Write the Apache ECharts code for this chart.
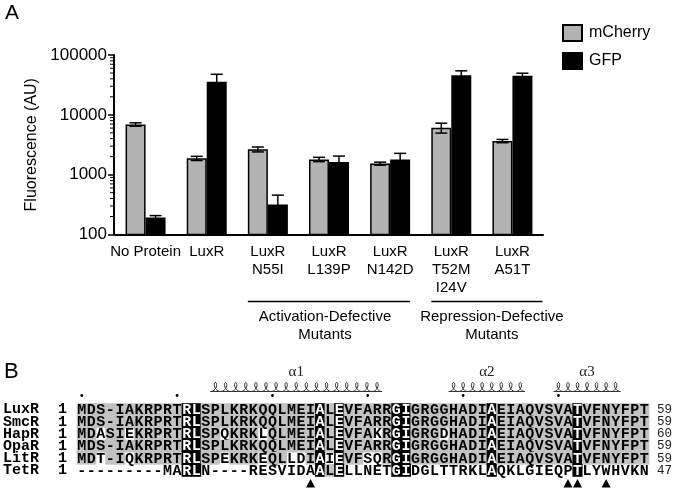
<!DOCTYPE html>
<html><head><meta charset="utf-8">
<script src="https://cdn.jsdelivr.net/npm/echarts@6/dist/echarts.min.js"></script>
<style>html,body{margin:0;padding:0;background:#fff}#c{width:675px;height:496px}</style>
</head><body><div id="c"></div>
<script>
// ---------- Panel A data ----------
const categories = ['No Protein','LuxR','LuxR\nN55I','LuxR\nL139P','LuxR\nN142D','LuxR\nT52M\nI24V','LuxR\nA51T'];
const mCherry    = [6900, 1875, 2650, 1800, 1530, 6100, 3650];
const mCherryErr = [450, 150, 250, 150, 90, 1150, 230];
const gfp        = [193, 35600, 318, 1625, 1800, 46000, 44800];
const gfpErr     = [14, 12000, 137, 420, 470, 8400, 4800];
const minorTicks = [200,300,400,500,600,700,800,900,2000,3000,4000,5000,6000,7000,8000,9000,20000,30000,40000,50000,60000,70000,80000,90000];
const groupNames = ['Activation-Defective\nMutants', 'Repression-Defective\nMutants'];
const groupFrom  = [2, 5];
const groupTo    = [4, 6];

// ---------- Panel B data ----------
const seqNames = ['LuxR','SmcR','HapR','OpaR','LitR','TetR'];
const seqStart = [1, 1, 1, 1, 1, 1];
const seqEnd   = [59, 59, 60, 59, 59, 47];
const sequences = [
  'MDS-IAKRPRTRLSPLKRKQQLMEIALEVFARRGIGRGGHADIAEIAQVSVATVFNYFPT',
  'MDS-IAKRPRTRLSPLKRKQQLMEIALEVFARRGIGRGGHADIAEIAQVSVATVFNYFPT',
  'MDASIEKRPRTRLSPQKRKLQLMEIALEVFAKRGIGRGDHADIAEIAQVSVATVFNYFPT',
  'MDS-IAKRPRTRLSPLKRKQQLMEIALEVFARRGIGRGGHADIAEIAQVSVATVFNYFPT',
  'MDT-IQKRPRTRLSPEKRKEQLLDIAIEVFSQRGIGRGGHADIAEIAQVSVATVFNYFPT',
  '---------MARLN----RESVIDAALELLNETGIDGLTTRKLAQKLGIEQPTLYWHVKN'
];
// conservation class per residue: b = strictly conserved, g = similar, w = none
const conservation = [
  'ggggggggggg|bb|gggggggggggg|b|g|b|ggggg|bb|gggggggg|b|gggggggg|b|ggggggg',
  'ggggggggggg|bb|gggggggggggg|b|g|b|ggggg|bb|gggggggg|b|gggggggg|b|ggggggg',
  'ggwggwggggg|bb|ggwgggwggggg|b|g|b|gggwg|bb|gggwgggg|b|gggggggg|b|ggggggg',
  'ggggggggggg|bb|gggggggggggg|b|g|b|ggggg|bb|gggggggg|b|gggggggg|b|ggggggg',
  'ggwggwggggg|bb|ggwgggwggwwg|b|w|b|ggwwg|bb|gggggggg|b|gggggggg|b|ggggggg',
  'wwwwwwwwwww|bb|wwwwwwwwwwww|b|g|b|wwwww|bb|wwwwwwww|b|wwwwwwww|b|wwwwwww'
];
const helixNames = ['α1', 'α2', 'α3'];
const helixStart = [15, 40, 51];
const helixEnd   = [32, 47, 57];
const dotCols    = [1, 11, 21, 31, 41, 51];
const arrowCols  = [25, 52, 53, 56];

// ---------- build ----------
const sans = 'Liberation Sans, Arial, Helvetica, sans-serif';
const mono = 'Liberation Mono, Courier New, monospace';
const serif = 'Liberation Serif, Times New Roman, serif';

const cells = [];
sequences.forEach((seq, r) => {
  const cls = conservation[r].replace(/\|/g, '');
  for (let c = 0; c < seq.length; c++) cells.push({ c: c, r: r, ch: seq[c], k: cls[c] });
});
const nCols = sequences[0].length;
const colCats = Array.from({ length: nCols }, (_, i) => String(i + 1));

const chart = echarts.init(document.getElementById('c'));

function errRender(values, errs, dx) {
  return function (params, api) {
    const i = params.dataIndex;
    const v = values[i], e = errs[i];
    const hi = api.coord([i, v + e]);
    const lo = api.coord([i, v - e]);
    const x = hi[0] + dx;
    const cw = 6;
    const st = { stroke: '#000', lineWidth: 1.5 };
    return {
      type: 'group', children: [
        { type: 'line', shape: { x1: x, y1: hi[1], x2: x, y2: lo[1] }, style: st },
        { type: 'line', shape: { x1: x - cw, y1: hi[1], x2: x + cw, y2: hi[1] }, style: st },
        { type: 'line', shape: { x1: x - cw, y1: lo[1], x2: x + cw, y2: lo[1] }, style: st }
      ]
    };
  };
}

const option = {
  animation: false,
  backgroundColor: '#fff',
  legend: {
    data: ['mCherry', 'GFP'], orient: 'vertical', left: 562, top: 24, padding: 0,
    itemWidth: 19, itemHeight: 16, itemGap: 10, icon: 'rect', selectedMode: false,
    textStyle: { fontSize: 16, color: '#000', fontFamily: sans, padding: [0, 0, 0, 2] }
  },
  grid: [
    { left: 115, top: 55, width: 428, height: 179.5 },
    { left: 77, top: 403.5, width: 572.4, height: 73 }
  ],
  xAxis: [
    {
      type: 'category', gridIndex: 0, data: categories,
      axisLine: { onZero: false, lineStyle: { color: '#000', width: 2 } },
      axisTick: { alignWithLabel: true, length: 6, lineStyle: { color: '#000', width: 1.5 } },
      axisLabel: { interval: 0, color: '#000', fontSize: 15, fontFamily: sans, lineHeight: 18, margin: 8 }
    },
    { type: 'category', gridIndex: 1, data: colCats, show: false }
  ],
  yAxis: [
    {
      type: 'log', logBase: 10, gridIndex: 0, min: 100, max: 100000, offset: 1,
      axisLine: { show: true, lineStyle: { color: '#000', width: 2 } },
      axisTick: { show: true, length: 6, lineStyle: { color: '#000', width: 1.5 } },
      axisLabel: { color: '#000', fontSize: 17, fontFamily: sans, margin: 7, formatter: v => String(Math.round(v)) },
      splitLine: { show: false },
      name: 'Fluorescence (AU)', nameLocation: 'middle', nameGap: 66,
      nameTextStyle: { fontSize: 16, color: '#000', fontFamily: sans }
    },
    {
      type: 'category', gridIndex: 1, data: seqNames, inverse: true,
      axisLine: { show: false }, axisTick: { show: false }, splitLine: { show: false },
      axisLabel: {
        interval: 0, align: 'left', margin: 74,
        formatter: (v, i) => '{n|' + v + '}{s|' + seqStart[i] + '}',
        rich: {
          n: { width: 55, fontFamily: mono, fontWeight: 'bold', fontSize: 15, color: '#000' },
          s: { fontFamily: mono, fontWeight: 'bold', fontSize: 15, color: '#000' }
        }
      }
    },
    {
      type: 'category', gridIndex: 1, data: seqNames, inverse: true, position: 'right',
      axisLine: { show: false }, axisTick: { show: false }, splitLine: { show: false },
      axisLabel: { interval: 0, margin: 8, fontFamily: mono, fontSize: 12.5, color: '#222', formatter: (v, i) => String(seqEnd[i]) }
    }
  ],
  series: [
    {
      name: 'mCherry', type: 'bar', xAxisIndex: 0, yAxisIndex: 0, data: mCherry,
      barWidth: 20, barGap: '0%',
      itemStyle: { color: '#b3b3b3', borderColor: '#000', borderWidth: 1.5 }
    },
    {
      name: 'GFP', type: 'bar', xAxisIndex: 0, yAxisIndex: 0, data: gfp,
      barWidth: 20, barGap: '0%',
      itemStyle: { color: '#000', borderColor: '#000', borderWidth: 1.5 }
    },
    {
      type: 'custom', xAxisIndex: 0, yAxisIndex: 0, z: 5,
      data: mCherry.map((v, i) => [i, v]), renderItem: errRender(mCherry, mCherryErr, -10)
    },
    {
      type: 'custom', xAxisIndex: 0, yAxisIndex: 0, z: 5,
      data: gfp.map((v, i) => [i, v]), renderItem: errRender(gfp, gfpErr, 10)
    },
    {
      type: 'custom', xAxisIndex: 0, yAxisIndex: 0, z: 5,
      data: minorTicks.map(v => [0, v]),
      renderItem: function (params, api) {
        const p = api.coord([0, api.value(1)]);
        const x = params.coordSys.x - 1;
        return { type: 'line', shape: { x1: x - 4, y1: p[1], x2: x, y2: p[1] }, style: { stroke: '#000', lineWidth: 1 } };
      }
    },
    // alignment cells
    {
      type: 'custom', xAxisIndex: 1, yAxisIndex: 1,
      data: cells.map(d => [d.c, d.r]),
      renderItem: function (params, api) {
        const d = cells[params.dataIndex];
        const p = api.coord([d.c, d.r]);
        const s = api.size([1, 1]);
        const ch = [];
        if (d.k !== 'w') {
          ch.push({ type: 'rect', shape: { x: p[0] - s[0] / 2 - 0.3, y: p[1] - s[1] / 2 - 0.3, width: s[0] + 0.6, height: s[1] + 0.6 },
            style: { fill: d.k === 'b' ? '#000' : '#c2c2c2' } });
        }
        ch.push({ type: 'text', x: p[0], y: p[1] + 0.5,
          style: { text: d.ch, align: 'center', verticalAlign: 'middle', fill: d.k === 'b' ? '#fff' : '#000',
            font: 'bold 15px ' + mono } });
        return { type: 'group', children: ch };
      }
    },
    // helices
    {
      type: 'custom', xAxisIndex: 1, yAxisIndex: 1,
      data: helixStart.map(s => [s - 1, 0]),
      renderItem: function (params, api) {
        const i = params.dataIndex;
        const s = api.size([1, 1]);
        const x0 = api.coord([helixStart[i] - 1, 0])[0] - s[0] / 2;
        const x1 = api.coord([helixEnd[i] - 1, 0])[0] + s[0] / 2;
        const base = params.coordSys.y - 12;
        const h = 9;
        const n = Math.round((x1 - x0) / 10);
        const pitch = (x1 - x0) / n;
        const b = 3.3;
        const pts = [];
        const steps = n * 24;
        for (let k = 0; k <= steps; k++) {
          const t = -Math.PI + (2 * Math.PI * n) * k / steps;
          const x = x0 + pitch / 2 + pitch * t / (2 * Math.PI) - b * Math.sin(t);
          const y = base - h * (1 + Math.cos(t)) / 2;
          pts.push([x, y]);
        }
        return {
          type: 'group', children: [
            { type: 'polyline', shape: { points: pts }, style: { stroke: '#333', lineWidth: 1, fill: null } },
            { type: 'line', shape: { x1: x0, y1: base, x2: x1, y2: base }, style: { stroke: '#333', lineWidth: 1 } },
            { type: 'text', x: (x0 + x1) / 2, y: base - 19,
              style: { text: helixNames[i], align: 'center', verticalAlign: 'middle', fill: '#222', font: '15px ' + serif } }
          ]
        };
      }
    },
    // dots
    {
      type: 'custom', xAxisIndex: 1, yAxisIndex: 1,
      data: dotCols.map(c => [c - 1, 0]),
      renderItem: function (params, api) {
        const p = api.coord([dotCols[params.dataIndex] - 1, 0]);
        return { type: 'circle', shape: { cx: p[0], cy: params.coordSys.y - 8, r: 1.4 }, style: { fill: '#000' } };
      }
    },
    // arrows
    {
      type: 'custom', xAxisIndex: 1, yAxisIndex: 1,
      data: arrowCols.map(c => [c - 1, 5]),
      renderItem: function (params, api) {
        const p = api.coord([arrowCols[params.dataIndex] - 1, 5]);
        const y = params.coordSys.y + params.coordSys.height + 7;
        return { type: 'polygon', shape: { points: [[p[0], y - 4.5], [p[0] - 4.5, y + 4], [p[0] + 4.5, y + 4]] }, style: { fill: '#000' } };
      }
    }
  ]
};
chart.setOption(option);

// annotations (panel letters, group brackets) positioned from the axes
const bracketPad = [[-20, 20], [-20, 30]];
const textShift = [-4, 5];
const axisY = chart.convertToPixel({ yAxisIndex: 0 }, 100);
const graphics = [
  { type: 'text', left: 5, top: 3, style: { text: 'A', font: '21px ' + sans, fill: '#000' } },
  { type: 'text', left: 4, top: 361, style: { text: 'B', font: '22px ' + sans, fill: '#000' } }
];
groupNames.forEach((g, i) => {
  const xa = chart.convertToPixel({ xAxisIndex: 0 }, groupFrom[i]) + bracketPad[i][0];
  const xb = chart.convertToPixel({ xAxisIndex: 0 }, groupTo[i]) + bracketPad[i][1];
  const ly = axisY + 67;
  graphics.push({ type: 'line', shape: { x1: xa, y1: ly, x2: xb, y2: ly }, style: { stroke: '#000', lineWidth: 1.5 } });
  graphics.push({ type: 'text', x: (xa + xb) / 2 + textShift[i], y: ly + 6,
    style: { text: g, align: 'center', verticalAlign: 'top', font: '15px ' + sans, fill: '#000', lineHeight: 18 } });
});
chart.setOption({ graphic: graphics });
</script>
</body></html>
